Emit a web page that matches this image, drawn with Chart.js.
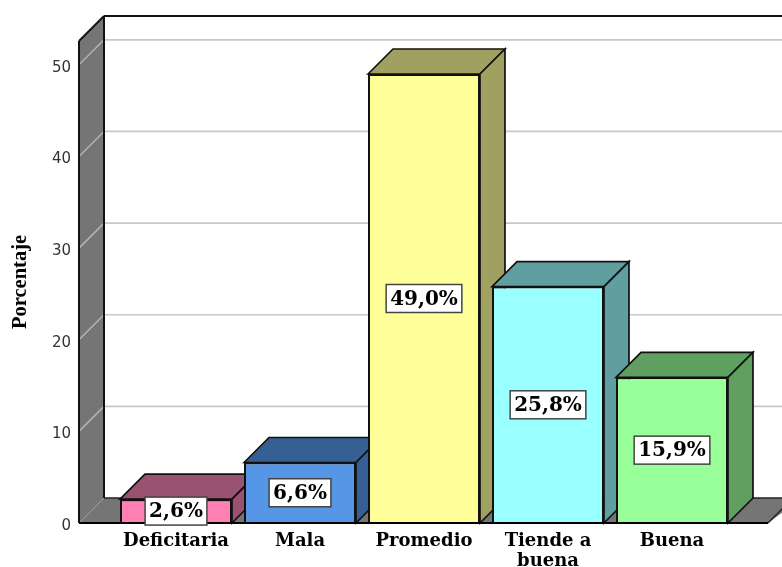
<!DOCTYPE html>
<html>
<head>
<meta charset="utf-8">
<style>html,body{margin:0;padding:0;background:#fff}canvas{display:block}</style>
<script src="https://cdn.jsdelivr.net/npm/chart.js@4"></script>
</head>
<body>
<canvas id="c" width="782" height="567"></canvas>
<script>
const categories = ["Deficitaria", "Mala", "Promedio", ["Tiende a", "buena"], "Buena"];
const values = [2.6, 6.6, 49.0, 25.8, 15.9];
const frontColors = ["#ff80b3", "#5596e6", "#ffff99", "#99ffff", "#99ff99"];
const sideColors = ["#99526f", "#365f93", "#a0a060", "#5f9f9f", "#5f9f5f"];
const yTitle = "Porcentaje";
const DEPTH = 25;

function poly(ctx, pts, fill, stroke, lw) {
  ctx.beginPath();
  pts.forEach((p, i) => i ? ctx.lineTo(p[0], p[1]) : ctx.moveTo(p[0], p[1]));
  ctx.closePath();
  if (fill) { ctx.fillStyle = fill; ctx.fill(); }
  if (stroke) { ctx.strokeStyle = stroke; ctx.lineWidth = lw; ctx.stroke(); }
}
function seg(ctx, x1, y1, x2, y2, color, lw) {
  ctx.beginPath(); ctx.moveTo(x1, y1); ctx.lineTo(x2, y2);
  ctx.strokeStyle = color; ctx.lineWidth = lw; ctx.stroke();
}

const box3d = {
  id: "box3d",
  afterLayout(chart) {
    const { x, y } = chart.scales, a = chart.chartArea;
    const top = 41, bottom = 523;
    y.top = top; y.bottom = bottom; y.height = bottom - top; y.configure();
    x.top = bottom; x.bottom = chart.height; x.height = chart.height - bottom;
    a.top = top; a.bottom = bottom; a.height = bottom - top;
  },
  beforeDatasetsDraw(chart) {
    const { ctx, scales: { x, y }, chartArea: a } = chart;
    const d = DEPTH, W = chart.width;
    const L = a.left - 35, R = a.right + 34;
    const y0 = y.getPixelForValue(0), top = a.top;
    ctx.save();
    poly(ctx, [[L, y0], [L + d, y0 - d], [W + 20, y0 - d], [R, y0]], "#757575");
    seg(ctx, R + d, y0 - d, R, y0, "#222", 1.5);
    seg(ctx, L + d, y0 - d, W, y0 - d, "#222", 1.5);
    poly(ctx, [[L, top], [L + d, top - d], [L + d, y0 - d], [L, y0]], "#757575");
    ctx.font = "15px 'DejaVu Sans'";
    ctx.fillStyle = "#333"; ctx.textAlign = "right"; ctx.textBaseline = "middle";
    y.ticks.forEach(t => {
      const py = y.getPixelForValue(t.value);
      ctx.fillText(String(t.value), L - 8, py + 3);
      if (t.value === 0) return;
      seg(ctx, L, py, L + d, py - d, "#b4b4b4", 1.5);
      seg(ctx, L + d, py - d, W, py - d, "#c8c8c8", 1.7);
    });
    seg(ctx, L, y0, L + d, y0 - d, "#a0a0a0", 1);
    seg(ctx, L + d, top - d, W, top - d, "#111", 2);
    seg(ctx, L + d, top - d, L + d, y0 - d, "#111", 2);
    seg(ctx, L, top, L + d, top - d, "#111", 2);
    seg(ctx, L, top, L, y0, "#111", 2);
    chart.getDatasetMeta(0).data.forEach((b, i) => {
      const l = b.x - b.width / 2, r = b.x + b.width / 2, t = b.y, bt = b.base;
      poly(ctx, [[l, t], [l + d, t - d], [r + d, t - d], [r, t]], sideColors[i], "#111", 1.7);
      poly(ctx, [[r, t], [r + d, t - d], [r + d, bt - d], [r, bt]], sideColors[i], "#111", 1.7);
    });
    ctx.restore();
  },
  afterDatasetsDraw(chart) {
    const { ctx, scales: { y }, chartArea: a } = chart;
    const L = a.left - 35, R = a.right + 34, y0 = y.getPixelForValue(0);
    ctx.save();
    seg(ctx, L, y0, R, y0, "#000", 2);
    ctx.font = "bold 20px 'DejaVu Serif'";
    ctx.textAlign = "center"; ctx.textBaseline = "middle";
    chart.getDatasetMeta(0).data.forEach((b, i) => {
      const txt = values[i].toFixed(1).replace(".", ",") + "%";
      const w = ctx.measureText(txt).width + 8, h = 28;
      const cy = (b.y + b.base) / 2, cx = b.x;
      ctx.fillStyle = "#fff";
      ctx.fillRect(cx - w / 2, cy - h / 2, w, h);
      ctx.strokeStyle = "#444"; ctx.lineWidth = 1.5;
      ctx.strokeRect(cx - w / 2, cy - h / 2, w, h);
      ctx.fillStyle = "#000";
      ctx.fillText(txt, cx, cy + 1);
    });
    ctx.restore();
  }
};

new Chart(document.getElementById("c"), {
  type: "bar",
  data: {
    labels: categories,
    datasets: [{
      data: values,
      backgroundColor: frontColors,
      borderColor: "#111",
      borderWidth: 2,
      barPercentage: 0.903,
      categoryPercentage: 1
    }]
  },
  plugins: [box3d],
  options: {
    responsive: false,
    animation: false,
    layout: { autoPadding: false, padding: { top: 41, right: 48, left: 0, bottom: 0 } },
    plugins: { legend: { display: false }, tooltip: { enabled: false } },
    scales: {
      x: {
        afterFit(s) { s.height = 44; },
        grid: { display: false, drawTicks: false },
        border: { display: false },
        ticks: { color: "#000", padding: 8, maxRotation: 0, autoSkip: false,
                 font: { family: "'DejaVu Serif'", weight: "bold", size: 18, lineHeight: 1.12 } }
      },
      y: {
        min: 0, max: 52.6,
        afterFit(s) { s.width = 114; },
        grid: { display: false, drawTicks: false },
        border: { display: false },
        ticks: { stepSize: 10, includeBounds: false, display: false },
        title: { display: true, text: yTitle, color: "#000", padding: { top: 8, bottom: 0 },
                 font: { family: "'Liberation Serif'", weight: "bold", size: 20.5, lineHeight: 1.2 } }
      }
    }
  }
});
</script>
</body>
</html>
